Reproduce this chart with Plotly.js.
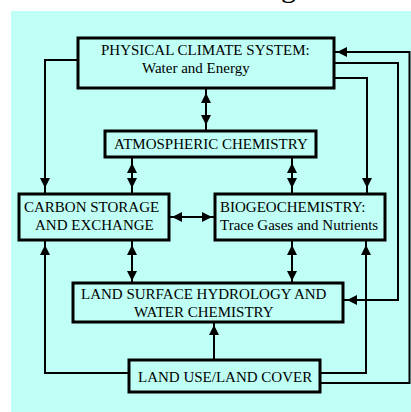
<!DOCTYPE html>
<html>
<head>
<meta charset="utf-8">
<script src="https://cdn.plot.ly/plotly-3.0.1.min.js"></script>
<style>html,body{margin:0;padding:0;background:#fff;}#chart{width:411px;height:412px;}</style>
</head>
<body>
<div id="chart"></div>
<script>
// Boxes of the diagram (pixel coordinates on a 411x412 canvas, y down)
const boxNames = ["Physical", "Atmospheric", "Carbon", "Biogeochemistry", "LandSurface", "LandUse"];
const boxX0 = [78, 105, 19, 215, 73, 129];
const boxX1 = [334, 316, 169, 385, 343, 320];
const boxY0 = [38, 131, 194, 194, 283, 360];
const boxY1 = [88, 157, 240, 240, 322, 392];

// Text lines inside boxes
const labelText = [
  "PHYSICAL CLIMATE SYSTEM:", "Water and Energy",
  "ATMOSPHERIC CHEMISTRY",
  "CARBON STORAGE", "AND EXCHANGE",
  "BIOGEOCHEMISTRY:", "Trace Gases and Nutrients",
  "LAND SURFACE HYDROLOGY AND", "WATER CHEMISTRY",
  "LAND USE/LAND COVER"
];
const labelX = [205, 196, 211, 91, 94, 218, 218, 204, 204, 225];
const labelY = [50, 68, 144, 207, 225, 207, 225, 294, 312, 377];
const labelAnchor = ["center", "center", "center", "center", "center", "left", "left", "center", "center", "center"];

// Connector polylines
const connectorX = [
  [78, 45, 45],
  [129, 45, 45],
  [334, 367, 367],
  [334, 398, 398, 343],
  [320, 409.5, 409.5, 334],
  [320, 366, 366],
  [206, 206],
  [132, 132],
  [292, 292],
  [169, 215],
  [132, 132],
  [292, 292],
  [214, 214]
];
const connectorY = [
  [60, 60, 194],
  [373, 373, 240],
  [78, 78, 194],
  [63, 63, 300, 300],
  [383, 383, 52, 52],
  [373, 373, 240],
  [88, 131],
  [157, 194],
  [157, 194],
  [217, 217],
  [240, 283],
  [240, 283],
  [360, 322]
];

// Arrowhead tips
const headX = [45, 45, 367, 347, 337, 366, 206, 206, 132, 132, 292, 292, 172, 212, 132, 132, 292, 292, 214];
const headY = [188, 245, 188, 300, 52, 245, 93, 125, 163, 188, 163, 188, 217, 217, 245, 281, 245, 281, 325];
const headDir = ["down", "up", "down", "left", "left", "up", "up", "down", "up", "down", "up", "down", "left", "right", "up", "down", "up", "down", "up"];

const traces = connectorX.map((xs, i) => ({
  type: "scatter", mode: "lines", x: xs, y: connectorY[i],
  line: {color: "#000", width: 2}, hoverinfo: "skip", cliponaxis: false, showlegend: false
}));
traces.push({
  type: "scatter", mode: "markers", x: headX, y: headY,
  marker: {symbol: headDir.map(d => "arrow-" + d), size: 10, color: "#000", line: {width: 0}},
  hoverinfo: "skip", cliponaxis: false, showlegend: false
});

const shapes = [{
  type: "rect", xref: "x", yref: "y", x0: 11, x1: 412, y0: 11, y1: 413,
  fillcolor: "#bffff6", line: {width: 0}, layer: "below"
}];
boxNames.forEach((n, i) => shapes.push({
  type: "rect", xref: "x", yref: "y", x0: boxX0[i], x1: boxX1[i], y0: boxY0[i], y1: boxY1[i],
  line: {color: "#000", width: 3}, fillcolor: "rgba(0,0,0,0)", layer: "above"
}));

const annotations = labelText.map((t, i) => ({
  text: t, x: labelX[i], y: labelY[i], xref: "x", yref: "y",
  xanchor: labelAnchor[i], yanchor: "middle", showarrow: false,
  font: {family: "Liberation Serif, Times New Roman, serif", size: 15, color: "#000"}
}));
// descender of a cropped title glyph at the very top edge
annotations.push({
  text: "g", x: 288, y: 0, xref: "x", yref: "y", xanchor: "center", yanchor: "bottom",
  yshift: -5, showarrow: false, font: {family: "Liberation Serif, serif", size: 30, color: "#000"}
});

Plotly.newPlot("chart", traces, {
  width: 411, height: 412,
  margin: {l: 0, r: 0, t: 0, b: 0},
  paper_bgcolor: "#fff", plot_bgcolor: "#fff",
  xaxis: {range: [0, 411], visible: false, fixedrange: true},
  yaxis: {range: [412, 0], visible: false, fixedrange: true},
  shapes: shapes, annotations: annotations, showlegend: false
}, {staticPlot: true, displayModeBar: false});
</script>
</body>
</html>
